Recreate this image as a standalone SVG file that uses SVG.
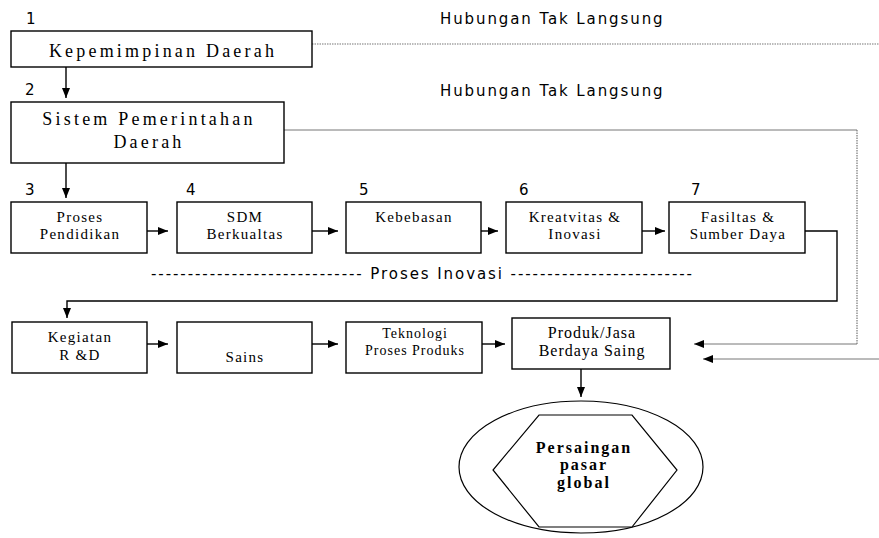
<svg xmlns="http://www.w3.org/2000/svg" width="879" height="538" viewBox="0 0 879 538">
<defs>
<marker id="ah" markerUnits="userSpaceOnUse" markerWidth="11" markerHeight="9" refX="10" refY="4" orient="auto">
<path d="M0,0 L10,4 L0,8 z" fill="#000"/>
</marker>
<style>
.box{fill:#fff;stroke:#000;stroke-width:1.4}
.t{fill:#000;text-anchor:middle}
.big{font-size:18px;letter-spacing:3.2px}
.sm{font-size:15px;letter-spacing:1.3px}
.s{font-size:15px;fill:#000}
.c{fill:none;stroke:#000;stroke-width:1.4}
.g{fill:none;stroke:#777;stroke-width:1}
.d{fill:none;stroke:#777;stroke-width:1.2;stroke-dasharray:1.5 1}
</style>
</defs>
<rect width="879" height="538" fill="#fff"/>
<g id="labels" font-family="'DejaVu Sans', Verdana, sans-serif">
<text class="s" x="26" y="24">1</text>
<text class="s" x="25" y="95">2</text>
<text class="s" x="25" y="195">3</text>
<text class="s" x="186" y="195">4</text>
<text class="s" x="359" y="195">5</text>
<text class="s" x="519" y="195">6</text>
<text class="s" x="691" y="195">7</text>
<text class="s" x="440" y="24" style="letter-spacing:1.9px">Hubungan Tak Langsung</text>
<text class="s" x="440" y="96" style="letter-spacing:1.9px">Hubungan Tak Langsung</text>
<text class="s" x="151" y="279" textLength="541" lengthAdjust="spacing">----------------------------- Proses Inovasi -------------------------</text>
</g>
<g id="connectors">
<path class="d" d="M312,44 H879"/>
<path class="g" d="M284,130 H857"/>
<path class="d" d="M857,130 V344"/>
<path class="g" d="M857,344 H694" marker-end="url(#ah)"/>
<path class="g" d="M879,359 H703" marker-end="url(#ah)"/>
<path class="c" d="M66,67 V98" marker-end="url(#ah)"/>
<path class="c" d="M66,163 V198" marker-end="url(#ah)"/>
<path class="c" d="M147,231 H168" marker-end="url(#ah)"/>
<path class="c" d="M312,231 H338" marker-end="url(#ah)"/>
<path class="c" d="M481,231 H498" marker-end="url(#ah)"/>
<path class="c" d="M642,231 H665" marker-end="url(#ah)"/>
<path class="c" d="M805,231 H837 V301 H67 V318" marker-end="url(#ah)"/>
<path class="c" d="M147,344 H168" marker-end="url(#ah)"/>
<path class="c" d="M312,344 H338" marker-end="url(#ah)"/>
<path class="c" d="M482,344 H505" marker-end="url(#ah)"/>
<path class="c" d="M581,369 V397" marker-end="url(#ah)"/>
</g>
<g id="nodes" font-family="'Liberation Serif', 'Times New Roman', serif">
<g id="n1"><rect class="box" x="11" y="31" width="301" height="36"/><text class="t big" x="163" y="57">Kepemimpinan Daerah</text></g>
<g id="n2"><rect class="box" x="11" y="102" width="273" height="61"/><text class="t big" x="149" y="125">Sistem Pemerintahan</text><text class="t big" x="149" y="148">Daerah</text></g>
<g id="n3"><rect class="box" x="11" y="202" width="136" height="51"/><text class="t sm" x="80" y="222">Proses</text><text class="t sm" x="80" y="239">Pendidikan</text></g>
<g id="n4"><rect class="box" x="177" y="202" width="135" height="51"/><text class="t sm" x="245" y="222">SDM</text><text class="t sm" x="245" y="239">Berkualtas</text></g>
<g id="n5"><rect class="box" x="346" y="202" width="135" height="51"/><text class="t sm" x="414" y="222">Kebebasan</text></g>
<g id="n6"><rect class="box" x="506" y="202" width="136" height="51"/><text class="t sm" x="575" y="222">Kreatvitas &amp;</text><text class="t sm" x="575" y="239">Inovasi</text></g>
<g id="n7"><rect class="box" x="669" y="202" width="136" height="51"/><text class="t sm" x="738" y="222">Fasiltas &amp;</text><text class="t sm" x="738" y="239">Sumber Daya</text></g>
<g id="n8"><rect class="box" x="12" y="322" width="135" height="51"/><text class="t sm" x="80" y="342">Kegiatan</text><text class="t sm" x="80" y="360">R &amp;D</text></g>
<g id="n9"><rect class="box" x="177" y="322" width="135" height="51"/><text class="t sm" x="245" y="362">Sains</text></g>
<g id="n10"><rect class="box" x="346" y="322" width="136" height="51"/><text class="t" x="415" y="338" style="font-size:14px;letter-spacing:1px">Teknologi</text><text class="t" x="415" y="355" style="font-size:14px;letter-spacing:1px">Proses Produks</text></g>
<g id="n11"><rect class="box" x="512" y="318" width="158" height="51"/><text class="t" x="592" y="338" style="font-size:16px;letter-spacing:1px">Produk/Jasa</text><text class="t" x="592" y="356" style="font-size:16px;letter-spacing:1px">Berdaya Saing</text></g>
<g id="n12">
<ellipse cx="581" cy="467" rx="122" ry="66" fill="#fff" stroke="#000" stroke-width="1.2"/>
<polygon points="539,415 632,415 677,470 632,527 539,527 493,470" fill="#fff" stroke="#000" stroke-width="1.2"/>
<text class="t" x="584" y="453" style="font-size:16px;font-weight:bold;letter-spacing:2px">Persaingan</text>
<text class="t" x="584" y="470" style="font-size:16px;font-weight:bold;letter-spacing:2px">pasar</text>
<text class="t" x="584" y="488" style="font-size:16px;font-weight:bold;letter-spacing:2px">global</text>
</g>
</g>
</svg>
